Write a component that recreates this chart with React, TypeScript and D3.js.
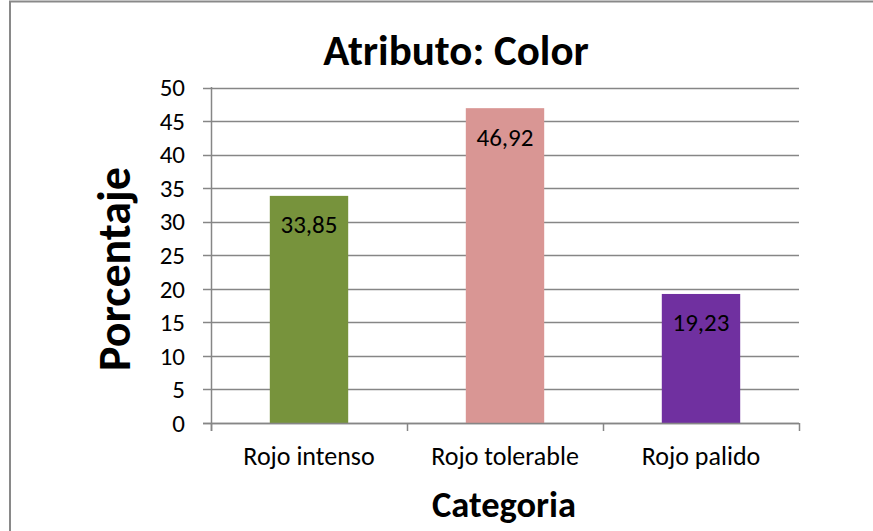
import React from "react";
import * as d3 from "d3";

const categories = ["Rojo intenso", "Rojo tolerable", "Rojo palido"];
const values = [33.85, 46.92, 19.23];
const valueLabels = ["33,85", "46,92", "19,23"];
const colors = ["#77933C", "#D99694", "#7030A0"];
const yTicks = [0, 5, 10, 15, 20, 25, 30, 35, 40, 45, 50];

const FONT = "Carlito, Calibri, Lato, sans-serif";

export default function App() {
  const W = 873;
  const H = 531;
  const x = d3.scaleBand<string>().domain(categories).range([211, 799]).paddingInner(0).paddingOuter(0);
  const y = d3.scaleLinear().domain([0, 50]).range([423, 87.5]);
  const bw = x.bandwidth() * 0.4;
  const bandEdges = [...categories.map((c) => x(c) as number), 799];
  const grid = "#868686";

  return (
    <svg width={W} height={H} style={{ position: "fixed", left: 0, top: 0, background: "#fff" }} fontFamily={FONT}>
      <rect x={0} y={0} width={W} height={H} fill="#fff" />
      <line x1={10} y1={1} x2={10} y2={H} stroke="#898989" strokeWidth={2} />
      <line x1={9} y1={1.5} x2={W} y2={1.5} stroke="#898989" strokeWidth={2} />
      {yTicks.map((t) => (
        <g key={t}>
          <line x1={203} x2={799} y1={Math.round(y(t)) + 0.5} y2={Math.round(y(t)) + 0.5} stroke={grid} strokeWidth={1.5} />
          <text x={185} y={y(t)} dy="0.35em" textAnchor="end" fontSize={25} fill="#000">
            {t}
          </text>
        </g>
      ))}
      {categories.map((c, i) => (
        <g key={c}>
          <rect x={(x(c) as number) + x.bandwidth() * 0.3} y={y(values[i])} width={bw} height={y(0) - y(values[i])} fill={colors[i]} />
          <text x={(x(c) as number) + x.bandwidth() / 2} y={y(values[i]) + 37.5} textAnchor="middle" fontSize={25} fill="#000">
            {valueLabels[i]}
          </text>
          <text x={(x(c) as number) + x.bandwidth() / 2} y={465} textAnchor="middle" fontSize={26} fill="#000">
            {c}
          </text>
        </g>
      ))}
      <line x1={211.5} x2={211.5} y1={87} y2={431} stroke={grid} strokeWidth={1.5} />
      <line x1={203} x2={799} y1={423.5} y2={423.5} stroke={grid} strokeWidth={1.5} />
      {bandEdges.map((e, i) => (
        <line key={i} x1={e + 0.5} x2={e + 0.5} y1={423} y2={431} stroke={grid} strokeWidth={1.5} />
      ))}
      <text x={456} y={65} textAnchor="middle" fontSize={43} fontWeight="bold" fill="#000">
        Atributo: Color
      </text>
      <text transform="translate(130,269) rotate(-90)" textAnchor="middle" fontSize={46} fontWeight="bold" fill="#000">
        Porcentaje
      </text>
      <text x={504} y={517} textAnchor="middle" fontSize={36.5} fontWeight="bold" fill="#000">
        Categoria
      </text>
    </svg>
  );
}
